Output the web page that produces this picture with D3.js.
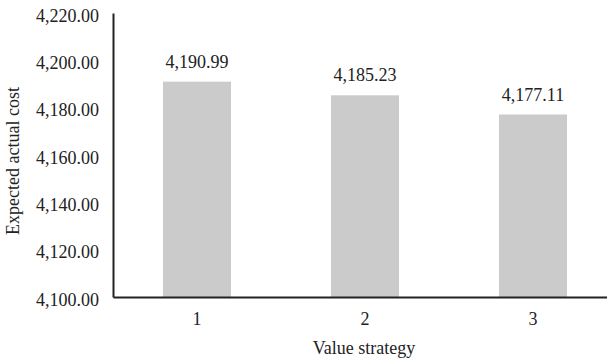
<!DOCTYPE html>
<html>
<head>
<meta charset="utf-8">
<script src="https://cdn.jsdelivr.net/npm/d3@7"></script>
<style>
  html, body { margin: 0; padding: 0; background: #fff; }
  svg { display: block; font-family: "Liberation Serif", "Times New Roman", serif; }
</style>
</head>
<body>
<svg id="chart" width="607" height="359"></svg>
<script>
// Expected actual cost per value strategy
const categories = ["1", "2", "3"];
const costs = [4190.99, 4185.23, 4177.11];
const yTicks = [4100, 4120, 4140, 4160, 4180, 4200, 4220];

const svg = d3.select("#chart");
const plotLeft = 113, plotRight = 617, plotTop = 13, plotBottom = 297;
const fontSize = 18;
const ink = "#222";

const x = d3.scaleBand()
  .domain(categories)
  .range([plotLeft, plotRight])
  .paddingInner(0.595)
  .paddingOuter(0.2975);

const y = d3.scaleLinear()
  .domain([4100, 4220])
  .range([plotBottom, plotTop]);

const fmt = d3.format(",.2f");

// bars
svg.append("g")
  .selectAll("rect")
  .data(costs)
  .join("rect")
  .attr("x", (d, i) => x(categories[i]))
  .attr("width", x.bandwidth())
  .attr("y", d => y(d))
  .attr("height", d => plotBottom - y(d))
  .attr("fill", "#cacbca");

// value labels
svg.append("g")
  .selectAll("text")
  .data(costs)
  .join("text")
  .attr("x", (d, i) => x(categories[i]) + x.bandwidth() / 2)
  .attr("y", d => y(d) - 14)
  .attr("text-anchor", "middle")
  .attr("font-size", fontSize)
  .attr("fill", ink)
  .text(d => fmt(d));

// y axis
const yAxis = d3.axisLeft(y).tickValues(yTicks).tickFormat(fmt).tickSize(0).tickPadding(14);
const gy = svg.append("g").attr("transform", `translate(${plotLeft},0)`).call(yAxis);
gy.select(".domain").attr("stroke", ink).attr("stroke-width", 2);
gy.selectAll("text").attr("font-size", fontSize).attr("fill", ink).attr("dy", "0.45em")
  .style("font-family", "'Liberation Serif', 'Times New Roman', serif");

// x axis
const xAxis = d3.axisBottom(x).tickSize(0).tickPadding(15);
const gx = svg.append("g").attr("transform", `translate(0,${plotBottom})`).call(xAxis);
gx.select(".domain").attr("stroke", ink).attr("stroke-width", 2);
gx.selectAll("text").attr("font-size", fontSize).attr("fill", ink)
  .style("font-family", "'Liberation Serif', 'Times New Roman', serif");

// axis titles
svg.append("text")
  .attr("x", 364)
  .attr("y", 354)
  .attr("text-anchor", "middle")
  .attr("font-size", fontSize)
  .attr("fill", ink)
  .text("Value strategy");

svg.append("text")
  .attr("transform", `translate(19,${(plotTop + plotBottom) / 2 + 6}) rotate(-90)`)
  .attr("text-anchor", "middle")
  .attr("font-size", fontSize)
  .attr("fill", ink)
  .text("Expected actual cost");
</script>
</body>
</html>
